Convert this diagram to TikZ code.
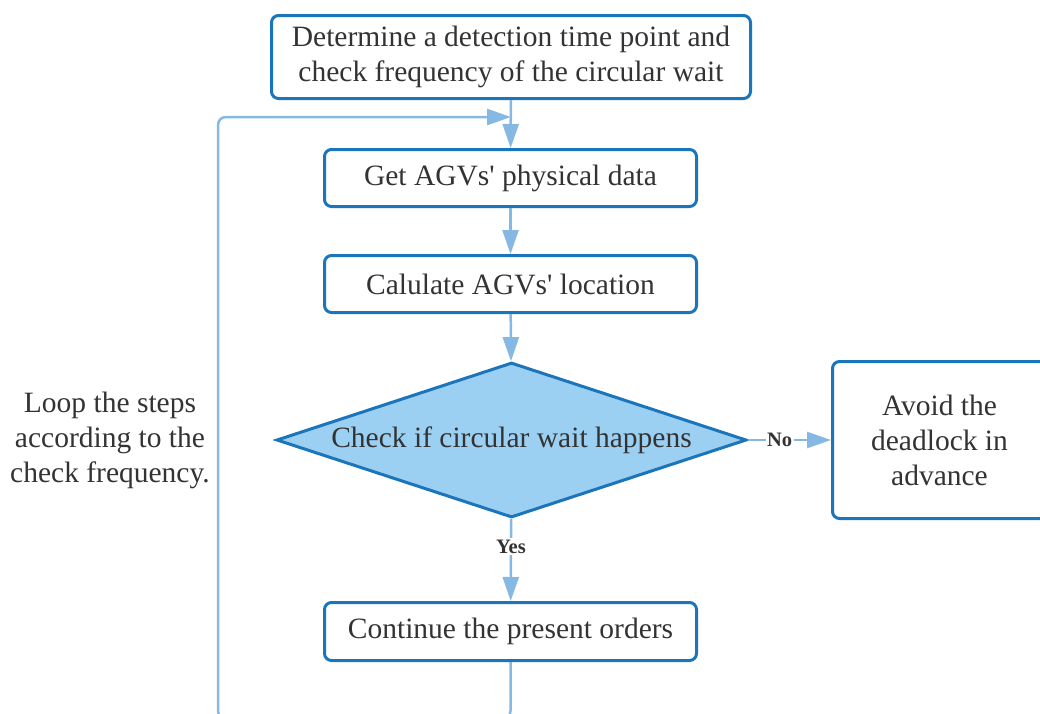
\documentclass[tikz,border=0pt]{standalone}
\usepackage{fontspec}
\setmainfont{Liberation Serif}
\usetikzlibrary{shapes.geometric,arrows.meta}
\definecolor{boxblue}{RGB}{27,117,187}
\definecolor{linkblue}{RGB}{133,185,228}
\definecolor{decfill}{RGB}{156,208,242}
\definecolor{txt}{RGB}{51,51,51}
\begin{document}
\begin{tikzpicture}[x=1pt,y=-1pt,
  every node/.style={font=\fontsize{29.5}{35}\selectfont, text=txt},
  stepbox/.style={draw=boxblue, line width=3pt, rounded corners=7pt, fill=white,
    align=center, inner sep=0pt},
  decision/.style={diamond, draw=boxblue, line width=3pt, fill=decfill, aspect=3,
    inner sep=0pt, minimum width=470pt, minimum height=155pt},
  link/.style={draw=linkblue, line width=2.5pt, -{Triangle[length=24pt,width=16pt]}},
  lbl/.style={font=\fontsize{20.5}{24}\selectfont\bfseries, fill=white, inner sep=1.5pt},
  note/.style={align=center, inner sep=0pt}
]
\useasboundingbox (0,0) rectangle (1040,713);

% process steps
\node[stepbox, minimum width=479pt, minimum height=83pt] (top) at (511,57)
  {Determine a detection time point and\\check frequency of the circular wait};
\node[stepbox, minimum width=372pt, minimum height=57pt] (get) at (510.5,178)
  {Get AGVs\textquotesingle{} physical data};
\node[stepbox, minimum width=372pt, minimum height=57pt] (calc) at (510.5,284)
  {Calulate AGVs\textquotesingle{} location};
\node[decision] (dec) at (511.5,440) {Check if circular wait happens};
\node[stepbox, minimum width=214pt, minimum height=157pt] (avoid) at (939.5,440)
  {Avoid the\\deadlock in\\advance};
\node[stepbox, minimum width=372pt, minimum height=58pt] (cont) at (510.5,631.5)
  {Continue the present orders};

% loop annotation
\node[note] (loopnote) at (110,440)
  {Loop the steps\\according to the\\check frequency.};

% connectors
\path (top.south) ++(0,17) coordinate (join);
\draw[link, rounded corners=8pt] (cont.south) -- ++(0,57) -| (218,117) -- (join);
\draw[link] (top) -- (get);
\draw[link] (get) -- (calc);
\draw[link] (calc) -- (dec);
\draw[link] (dec) -- node[lbl, pos=0.38] {No} (avoid);
\draw[link] (dec) -- node[lbl, pos=0.34] {Yes} (cont);
\end{tikzpicture}
\end{document}
